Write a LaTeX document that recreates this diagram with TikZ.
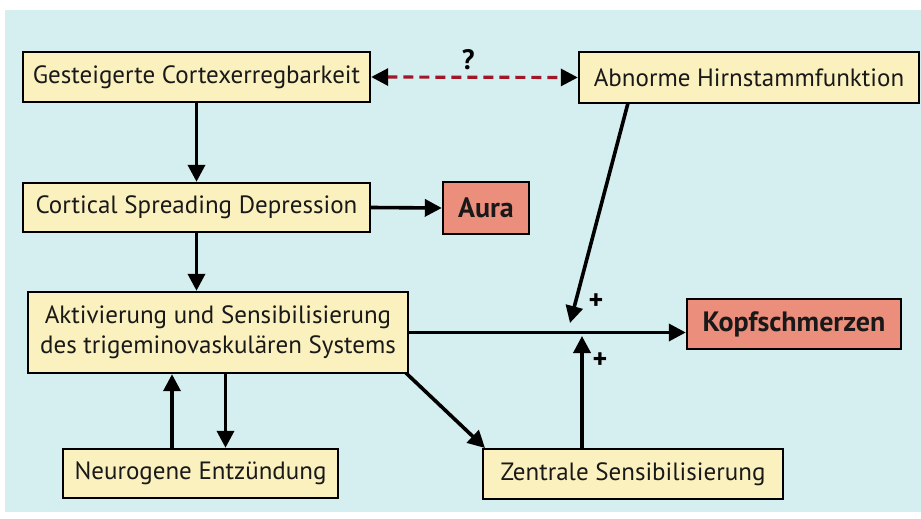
\documentclass[tikz,border=0pt]{standalone}
\usepackage{fontspec}
\setmainfont{PT Sans}
\usetikzlibrary{arrows.meta}
\definecolor{bgc}{HTML}{D5EEF0}
\definecolor{boxc}{HTML}{FBF1BE}
\definecolor{hotc}{HTML}{EC8E7C}
\definecolor{dashc}{HTML}{A01828}
\begin{document}
\begin{tikzpicture}[x=1pt,y=-1pt,
  box/.style={draw=black,line width=2.4pt,fill=boxc,inner sep=0pt,font=\fontsize{25}{30}\selectfont,text=black!90,align=center},
  hot/.style={box,fill=hotc,font=\fontsize{28}{30}\selectfont\bfseries},
  arr/.style={line width=3.6pt,-{Triangle[length=17pt,width=17pt]}},
  plus/.style={font=\fontsize{28}{28}\selectfont\bfseries}]
\useasboundingbox (0,0) rectangle (921,519);
\fill[white] (0,0) rectangle (921,519);
\fill[bgc] (5,10) rectangle (921,512);
\node[box,minimum width=347pt,minimum height=50pt] (n1) at (196.5,77) {Gesteigerte Cortexerregbarkeit};
\node[box,minimum width=340pt,minimum height=51pt] (n2) at (749,77.5) {Abnorme Hirnstammfunktion};
\node[box,minimum width=347pt,minimum height=49pt] (n3) at (196.5,207.5) {Cortical Spreading Depression};
\node[hot,minimum width=86pt,minimum height=52pt] (n4) at (486,208) {Aura};
\node[box,minimum width=380pt,minimum height=81pt] (n5) at (218,332.5) {Aktivierung und Sensibilisierung\\des trigeminovaskulären Systems};
\node[box,minimum width=275pt,minimum height=49pt] (n6) at (200.5,473.5) {Neurogene Entzündung};
\node[box,minimum width=300pt,minimum height=50pt] (n7) at (633,474) {Zentrale Sensibilisierung};
\node[hot,minimum width=214pt,minimum height=50pt] (n8) at (794,324) {Kopfschmerzen};
\coordinate (j1) at (570,323);
\coordinate (j2) at (582,336);
\coordinate (s2) at (628,103);
\coordinate (s5) at (406,373);
\coordinate (e7) at (485,448);
% dashed
\draw[line width=3.2pt,dashc,dash pattern=on 10pt off 6pt,
  {Triangle[length=17pt,width=17pt,color=black]}-{Triangle[length=17pt,width=17pt,color=black]}]
  (n1.east) -- node[above=2pt,plus,text=black,pos=0.47]{?} (n2.west);
\draw[arr] (n1.south) -- (n3.north);
\draw[arr] (n3.east) -- (n4.west);
\draw[arr] (n3.south) -- (n3.south |- n5.north);
\draw[arr] (n5.east) -- (n5.east -| n8.west);
\draw[arr] (s2) -- (j1);
\draw[arr] (n7.north -| j2) -- (j2);
\draw[arr] (s5) -- (e7);
\draw[arr] ([xshift=-28.5pt]n6.north) -- ([xshift=-28.5pt]n6.north |- n5.south);
\draw[arr] ([xshift=25pt]n6.north |- n5.south) -- ([xshift=25pt]n6.north);
\node[plus] (p1) at (596,302) {+};
\node[plus] (p2) at (600,361) {+};
\end{tikzpicture}
\end{document}
